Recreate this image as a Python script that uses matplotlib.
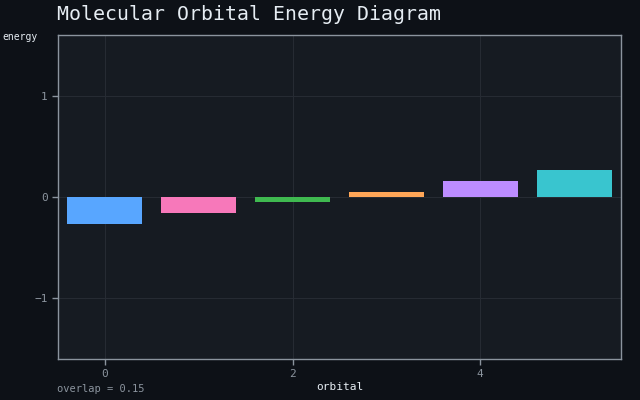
import matplotlib
matplotlib.use("Agg")
import matplotlib.pyplot as plt

orbitals = [0, 1, 2, 3, 4, 5]
energies = [-0.265, -0.155, -0.05, 0.05, 0.158, 0.268]
colors = ["#58a6ff", "#f778ba", "#3fb950", "#ffa657", "#bc8cff", "#39c5cf"]
xticks = [0, 2, 4]
yticks = [-1, 0, 1]

plt.rcParams['font.family'] = ['DejaVu Sans Mono']

fig = plt.figure(figsize=(6.4, 4.0), dpi=100, facecolor="#0d1117")
ax = fig.add_axes([58/640, 1-359/400, (621-58)/640, (359-35)/400])
ax.set_facecolor("#161b22")
ax.bar(orbitals, energies, width=0.8, color=colors, zorder=3)
ax.set_xlim(-0.5, 5.5)
ax.set_ylim(-1.6, 1.6)
ax.set_xticks(xticks)
ax.set_yticks(yticks)
ax.grid(True, color="#262b33", linewidth=0.8, zorder=0)
for s in ax.spines.values():
    s.set_color("#8b949e")
    s.set_linewidth(1)
ax.tick_params(colors="#8b949e", labelsize=8, length=4, width=1)
ax.set_xlabel("orbital", color="#e6edf3", fontsize=8, labelpad=2)
fig.text(2/640, 1-37/400, "energy", color="#e6edf3", fontsize=7, ha="left", va="center")
fig.text(57/640, 1-14/400, "Molecular Orbital Energy Diagram", color="#e6edf3", fontsize=14.3, ha="left", va="center")
fig.text(57/640, 1-389/400, "overlap = 0.15", color="#8b949e", fontsize=7.5, ha="left", va="center")
fig.savefig("out.png", dpi=100, facecolor=fig.get_facecolor())
